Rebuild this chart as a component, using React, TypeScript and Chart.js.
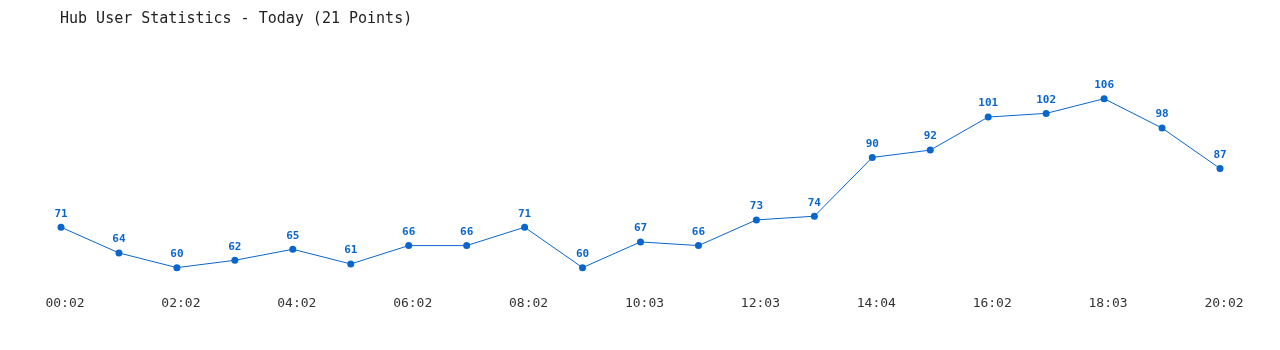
import React, { useEffect, useRef } from "react";
import { Chart, registerables } from "chart.js";

Chart.register(...registerables);

const TITLE = "Hub User Statistics - Today (21 Points)";
const timeLabels = [
  "00:02", "01:02", "02:02", "03:02", "04:02", "05:02", "06:02", "07:02",
  "08:02", "09:02", "10:03", "11:03", "12:03", "13:03", "14:04", "15:03",
  "16:02", "17:02", "18:03", "19:02", "20:02",
];
const userCounts = [71, 64, 60, 62, 65, 61, 66, 66, 71, 60, 67, 66, 73, 74, 90, 92, 101, 102, 106, 98, 87];

const BLUE = "#0a66cc";

const overlayPlugin = {
  id: "overlay",
  afterDatasetsDraw(chart: any) {
    const ctx = chart.ctx;
    const meta = chart.getDatasetMeta(0);
    ctx.save();
    ctx.fillStyle = BLUE;
    ctx.font = "bold 11px 'DejaVu Sans Mono', monospace";
    ctx.textAlign = "center";
    ctx.textBaseline = "middle";
    meta.data.forEach((pt: any, i: number) => {
      ctx.fillText(String(userCounts[i]), pt.x, pt.y - 13.5);
    });
    ctx.restore();
  },
  afterDraw(chart: any) {
    const ctx = chart.ctx;
    ctx.save();
    ctx.fillStyle = "#222";
    ctx.font = "15px 'DejaVu Sans Mono', monospace";
    ctx.textAlign = "left";
    ctx.textBaseline = "middle";
    ctx.fillText(TITLE, 60, 19);
    ctx.restore();
  },
};

export default function App() {
  const ref = useRef<HTMLCanvasElement | null>(null);
  useEffect(() => {
    if (!ref.current) return;
    const chart = new Chart(ref.current, {
      type: "line",
      data: {
        labels: timeLabels,
        datasets: [
          {
            data: userCounts,
            borderColor: BLUE,
            backgroundColor: BLUE,
            borderWidth: 1,
            pointRadius: 3.5,
            pointBackgroundColor: BLUE,
            pointBorderWidth: 0,
            tension: 0,
            fill: false,
          },
        ],
      },
      options: {
        responsive: false,
        animation: false,
        layout: { padding: { left: 61, right: 60, top: 84, bottom: 34 } },
        plugins: { legend: { display: false }, tooltip: { enabled: false }, title: { display: false } },
        scales: {
          x: {
            offset: false,
            grid: { display: false, drawTicks: false },
            border: { display: false },
            afterFit: (s: any) => { s.height = 30; },
            ticks: {
              autoSkip: false,
              maxRotation: 0,
              padding: 10,
              labelOffset: 4,
              color: "#333",
              font: { family: "'DejaVu Sans Mono', monospace", size: 13 },
              callback: (_v: any, i: number) => (i % 2 === 0 ? timeLabels[i] : ""),
            },
          },
          y: { display: false, min: 55, max: 110 },
        },
      },
      plugins: [overlayPlugin],
    });
    return () => chart.destroy();
  }, []);
  return (
    <div style={{ position: "fixed", left: 0, top: 0, width: 1280, height: 350, background: "#fff" }}>
      <canvas ref={ref} width={1280} height={350} />
    </div>
  );
}
